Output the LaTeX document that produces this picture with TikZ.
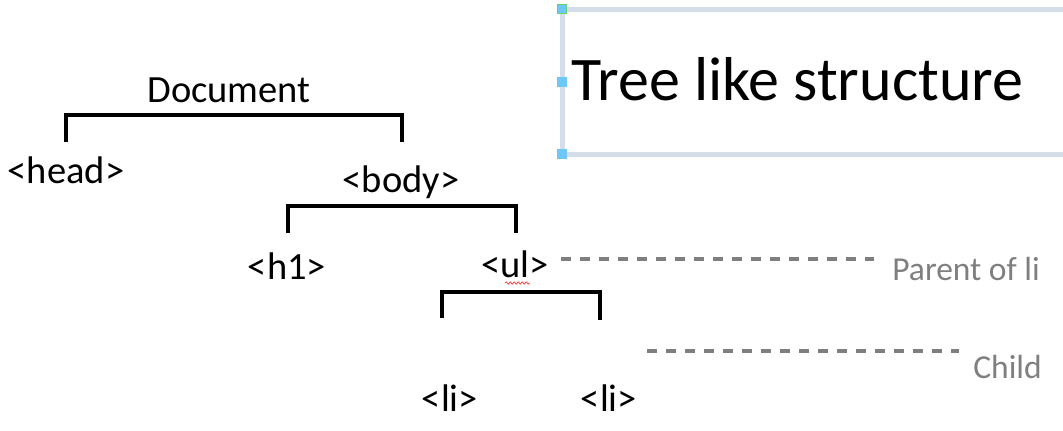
\documentclass[tikz,border=0pt]{standalone}
\usepackage{fontspec}
\setmainfont{Carlito}
\usetikzlibrary{decorations.pathmorphing}
\definecolor{boxline}{HTML}{D5DDE8}
\definecolor{handlefill}{HTML}{6CC8F8}
\definecolor{handlegreen}{HTML}{5FD46F}
\definecolor{labelgray}{HTML}{7F7F7F}
\begin{document}
\begin{tikzpicture}[x=1pt,y=-1pt,
  tag/.style={inner sep=0pt,anchor=base,font=\fontsize{38.5}{40}\selectfont},
  note/.style={inner sep=0pt,anchor=base east,text=labelgray,font=\fontsize{33.5}{35}\selectfont},
  bracket/.style={draw=black,line width=3.2pt},
  guide/.style={draw=labelgray,line width=3.2pt,dash pattern=on 10pt off 9pt},
  handle/.style={draw=handlefill,fill=handlefill,line width=0.8pt,minimum size=9pt,inner sep=0pt}]
\useasboundingbox (0,0) rectangle (1063,431);
% title box
\draw[boxline,line width=5pt] (1075,9) -- (562,9) -- (562,154) -- (1075,154);
\node[inner sep=0pt,anchor=base west,font=\fontsize{62}{64}\selectfont] (title) at (571,100) {Tree like structure};
\node[handle,draw=handlegreen] (h1) at (562,9) {};
\node[handle] (h2) at (562,82) {};
\node[handle] (h3) at (562,154) {};
% labels
\node[tag] (doc) at (229,102) {Document};
\node[tag] (head) at (66,183) {<head>};
\node[tag] (body) at (401,192) {<body>};
\node[tag] (hone) at (287,279) {<h1>};
\node[tag] (ul) at (515,277) {<ul>};
\node[tag] (lia) at (450,411) {<li>};
\node[tag] (lib) at (609,411) {<li>};
\node[note] (parent) at (1040,280) {Parent of li};
\node[note] (child) at (1042,378) {Child};
% brackets
\coordinate (b1l) at (66,142); \coordinate (b1r) at (402,142);
\coordinate (b2l) at (288,233); \coordinate (b2r) at (516,233);
\coordinate (b3l) at (442,318); \coordinate (b3r) at (600,320);
\draw[bracket] (b1l) -- (66,115) -- (402,115) -- (b1r);
\draw[bracket] (b2l) -- (288,206) -- (516,206) -- (b2r);
\draw[bracket] (b3l) -- (442,292) -- (600,292) -- (b3r);
% guides
\coordinate (g1a) at (561,259); \coordinate (g1b) at (874,259);
\coordinate (g2a) at (647,351); \coordinate (g2b) at (959,351);
\draw[guide] (g1a) -- (g1b);
\draw[guide] (g2a) -- (g2b);
% spell-check squiggle
\coordinate (sq1) at (505,283); \coordinate (sq2) at (530,283);
\draw[red!80,line width=0.7pt,decorate,decoration={snake,amplitude=1.2pt,segment length=4pt}] (sq1) -- (sq2);
\end{tikzpicture}
\end{document}
